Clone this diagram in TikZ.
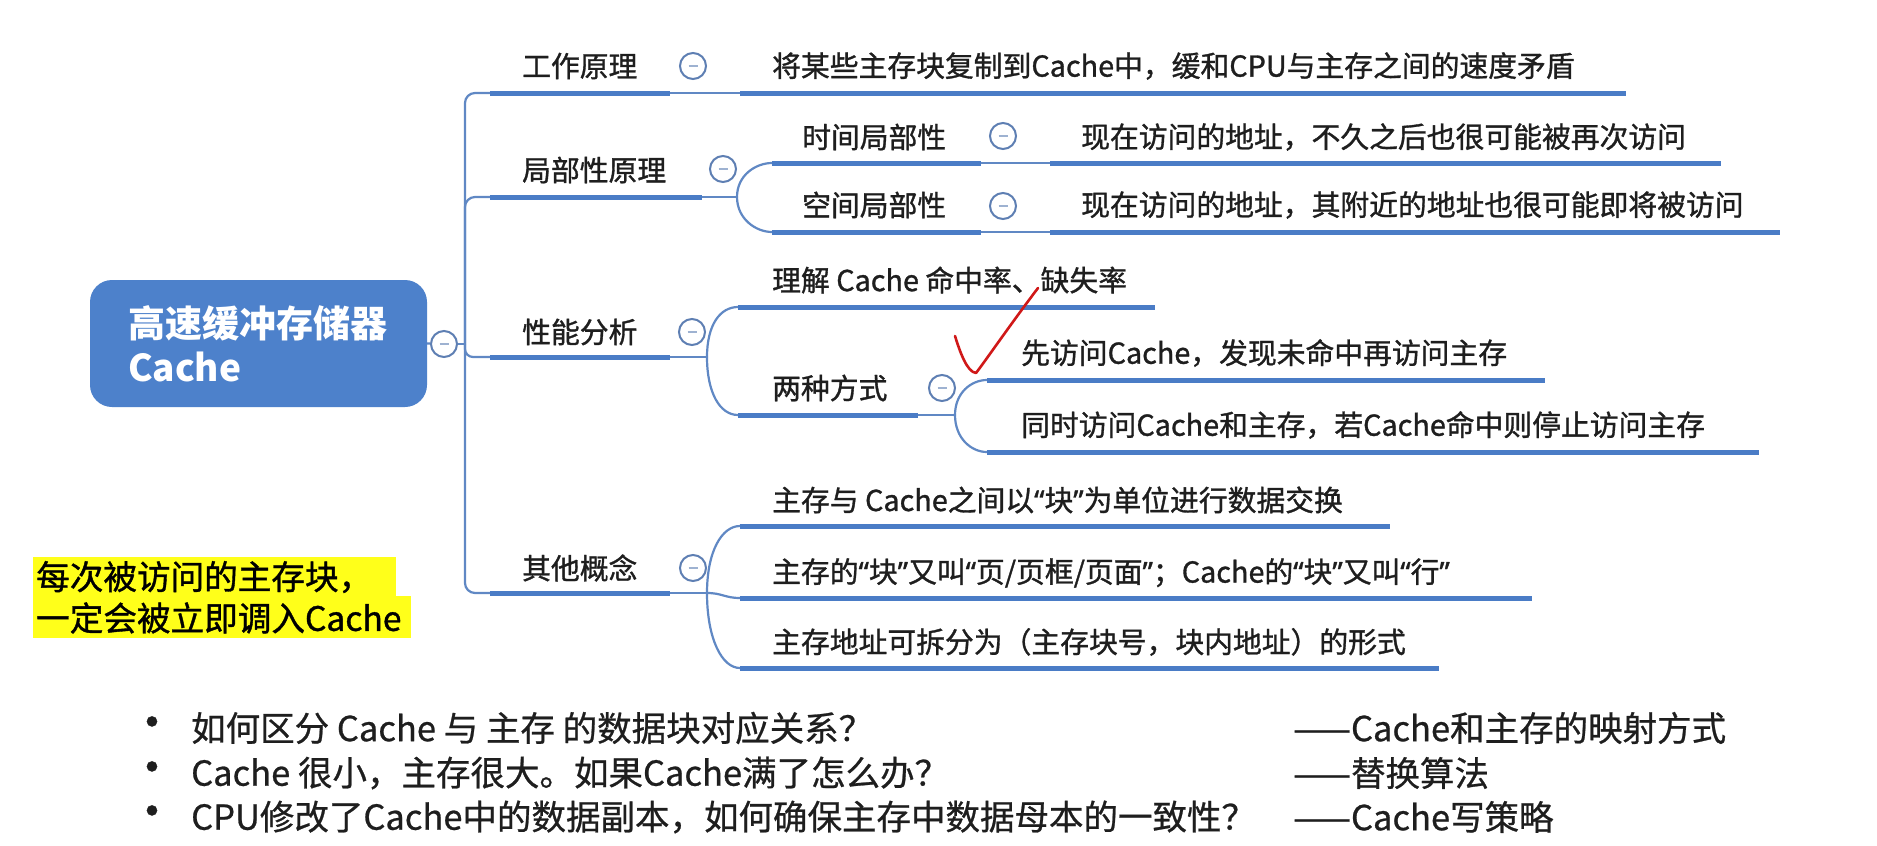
\documentclass[tikz,border=0pt]{standalone}
\usepackage{fontspec}
\setmainfont{Noto Sans CJK SC}
\newfontfamily\mmf[FakeBold=1.1]{Noto Sans CJK SC}
\newfontfamily\bmf[FakeBold=0.7]{Noto Sans CJK SC}
\newfontfamily\qtf[FakeBold=1.1]{Noto Sans}
\newcommand\oqt{{\qtf “}}
\newcommand\cqt{{\qtf ”}}
\definecolor{ublue}{HTML}{4A7CC6}
\definecolor{cblue}{HTML}{6088C4}
\definecolor{btnc}{HTML}{5E7FB3}
\definecolor{rootfill}{HTML}{4D81CB}
\definecolor{txt}{HTML}{1E1E1E}
\definecolor{hl}{HTML}{FFFF1A}
\definecolor{chk}{HTML}{D01818}
\begin{document}
\begin{tikzpicture}[x=1pt,y=-1pt,
  ul/.style={draw=ublue, line width=5pt},
  conn/.style={draw=cblue, line width=2.2pt},
  lbl/.style={anchor=west, inner sep=0pt, text=txt, font=\mmf\fontsize{28.8}{34}\selectfont},
  hltxt/.style={anchor=west, inner sep=0pt, text=black, font=\mmf\fontsize{33.6}{38}\selectfont},
  btxt/.style={anchor=west, inner sep=0pt, text=txt, font=\bmf\fontsize{34.5}{40}\selectfont},
  bullet/.style={anchor=center, inner sep=0pt, text=txt, font=\bmf\fontsize{48}{50}\selectfont},
  cbtn/.style={circle, draw=btnc, line width=2pt, fill=white, minimum size=26pt, inner sep=0pt,
    path picture={\draw[line width=1.6pt, draw=btnc!60] ([xshift=-4.5pt]path picture bounding box.center) -- ([xshift=4.5pt]path picture bounding box.center);}},
  rootbox/.style={fill=rootfill, rounded corners=22pt, minimum width=337pt, minimum height=127pt,
    text width=261pt, align=left, inner sep=0pt, text=white, font=\bfseries\fontsize{37}{44}\selectfont}
]
\fill[white] (0,0) rectangle (1877,846);
\useasboundingbox (0,0) rectangle (1877,846);

% ---------- coordinates ----------
\coordinate (J) at (465,344);
\coordinate (a1) at (490,93);   \coordinate (a2) at (670,93);
\coordinate (b1) at (490,197);  \coordinate (b2) at (702,197);
\coordinate (c1) at (490,357);  \coordinate (c2) at (670,357);
\coordinate (d1) at (490,593);  \coordinate (d2) at (670,593);
\coordinate (a11) at (740,93);  \coordinate (a12) at (1626,93);
\coordinate (bj) at (737,197);
\coordinate (b11) at (772,163); \coordinate (b12) at (981,163);
\coordinate (b21) at (772,232); \coordinate (b22) at (981,232);
\coordinate (b111) at (1050,163); \coordinate (b112) at (1721,163);
\coordinate (b211) at (1050,232); \coordinate (b212) at (1780,232);
\coordinate (cj) at (707,357);
\coordinate (c11) at (738,307); \coordinate (c12) at (1155,307);
\coordinate (c21) at (738,415); \coordinate (c22) at (918,415);
\coordinate (c2j) at (955,415);
\coordinate (c211) at (987,380); \coordinate (c212) at (1545,380);
\coordinate (c221) at (987,452); \coordinate (c222) at (1759,452);
\coordinate (dj) at (707,593);
\coordinate (d11) at (740,526); \coordinate (d12) at (1390,526);
\coordinate (d21) at (740,598); \coordinate (d22) at (1532,598);
\coordinate (d31) at (740,668); \coordinate (d32) at (1439,668);

% ---------- root ----------
\node[rootbox] (root) at (258.5,343.5) {高速缓冲存储器\\Cache};
\node[cbtn] (rbtn) at (444,344) {};

% ---------- connectors ----------
\draw[conn] (root.east) -- (rbtn);
\draw[conn] (rbtn) -- (J);
\draw[conn, rounded corners=10pt] (J) |- (a1);
\draw[conn, rounded corners=10pt] (J) |- (b1);
\draw[conn, rounded corners=8pt] (J) |- (c1);
\draw[conn, rounded corners=10pt] (J) |- (d1);

\draw[conn] (a2) -- (a11);
\draw[conn] (b2) -- (bj);
\draw[conn] (bj) .. controls +(0,-22) and +(-16,0) .. (b11);
\draw[conn] (bj) .. controls +(0,22) and +(-16,0) .. (b21);
\draw[conn] (b12) -- (b111);
\draw[conn] (b22) -- (b211);
\draw[conn] (c2) -- (cj);
\draw[conn] (cj) .. controls +(0,-32) and +(-18,0) .. (c11);
\draw[conn] (cj) .. controls +(0,36) and +(-18,0) .. (c21);
\draw[conn] (c22) -- (c2j);
\draw[conn] (c2j) .. controls +(0,-22) and +(-16,0) .. (c211);
\draw[conn] (c2j) .. controls +(0,23) and +(-16,0) .. (c221);
\draw[conn] (d2) -- (dj);
\draw[conn] (dj) .. controls +(0,-42) and +(-18,0) .. (d11);
\draw[conn] (dj) .. controls +(15,0) and +(-15,0) .. (d21);
\draw[conn] (dj) .. controls +(0,46) and +(-18,0) .. (d31);

% ---------- underlines ----------
\draw[ul] (a1) -- (a2);  \draw[ul] (b1) -- (b2);
\draw[ul] (c1) -- (c2);  \draw[ul] (d1) -- (d2);
\draw[ul] (a11) -- (a12);
\draw[ul] (b11) -- (b12); \draw[ul] (b21) -- (b22);
\draw[ul] (b111) -- (b112); \draw[ul] (b211) -- (b212);
\draw[ul] (c11) -- (c12); \draw[ul] (c21) -- (c22);
\draw[ul] (c211) -- (c212); \draw[ul] (c221) -- (c222);
\draw[ul] (d11) -- (d12); \draw[ul] (d21) -- (d22); \draw[ul] (d31) -- (d32);

% ---------- buttons ----------
\node[cbtn] (btnA) at (693,66) {};
\node[cbtn] (btnB) at (723,169) {};
\node[cbtn] (btnB1) at (1003,136) {};
\node[cbtn] (btnB2) at (1003,206) {};
\node[cbtn] (btnC) at (692,332) {};
\node[cbtn] (btnC2) at (942,388) {};
\node[cbtn] (btnD) at (693,568) {};

% ---------- labels ----------
\node[lbl] (tA) at (522,66) {工作原理};
\node[lbl] (tA1) at (772,66) {将某些主存块复制到Cache中，缓和CPU与主存之间的速度矛盾};
\node[lbl] (tB) at (522,170) {局部性原理};
\node[lbl] (tB1) at (802,137) {时间局部性};
\node[lbl] (tB11) at (1081,137) {现在访问的地址，不久之后也很可能被再次访问};
\node[lbl] (tB2) at (802,205) {空间局部性};
\node[lbl] (tB21) at (1081,205) {现在访问的地址，其附近的地址也很可能即将被访问};
\node[lbl] (tC) at (522,332) {性能分析};
\node[lbl] (tC1) at (772,280) {理解 Cache 命中率、缺失率};
\node[lbl] (tC2) at (772,388) {两种方式};
\node[lbl] (tC21) at (1021,353) {先访问Cache，发现未命中再访问主存};
\node[lbl] (tC22) at (1021,425) {同时访问Cache和主存，若Cache命中则停止访问主存};
\node[lbl] (tD) at (522,568) {其他概念};
\node[lbl] (tD1) at (772,500) {主存与 Cache之间以\oqt 块\cqt 为单位进行数据交换};
\node[lbl] (tD2) at (772,573) {主存的\oqt 块\cqt 又叫\oqt 页/页框/页面\cqt ；Cache的\oqt 块\cqt 又叫\oqt 行\cqt};
\node[lbl] (tD3) at (772,642) {主存地址可拆分为（主存块号，块内地址）的形式};

% ---------- check mark ----------
\draw[chk, line width=2.6pt, line cap=round, line join=round]
  (955,336) .. controls (960,352) and (967,372) .. (976,373)
  .. controls (986,360) and (1010,325) .. (1038,288);

% ---------- highlight note ----------
\fill[hl] (33,557) rectangle (396,597);
\fill[hl] (33,596) rectangle (411,638);
\node[hltxt] (h1) at (36,577) {每次被访问的主存块，};
\node[hltxt] (h2) at (36,618) {一定会被立即调入Cache};

% ---------- bottom bullets ----------
\node[bullet] (bu1) at (152,728) {•};
\node[bullet] (bu2) at (152,773) {•};
\node[bullet] (bu3) at (152,817) {•};
\node[btxt] (q1) at (191,728) {如何区分 Cache 与 主存 的数据块对应关系？};
\node[btxt] (q2) at (191,773) {Cache 很小，主存很大。如果Cache满了怎么办？};
\node[btxt] (q3) at (191,817) {CPU修改了Cache中的数据副本，如何确保主存中数据母本的一致性？};
\node[btxt] (r1) at (1293,728) {——Cache和主存的映射方式};
\node[btxt] (r2) at (1293,773) {——替换算法};
\node[btxt] (r3) at (1293,817) {——Cache写策略};
\end{tikzpicture}
\end{document}
